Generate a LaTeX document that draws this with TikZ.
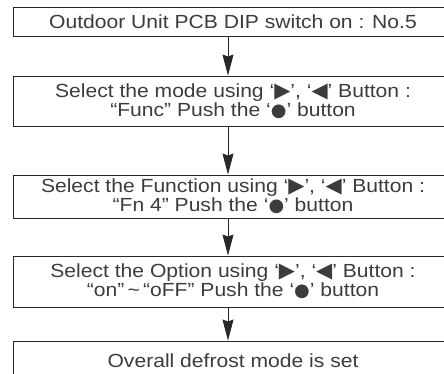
\documentclass[tikz,border=0pt]{standalone}
\usepackage{fontspec}
\setmainfont{Liberation Sans}[FakeStretch=1.11]
\newfontfamily\symfont{DejaVu Sans}
\usepackage{xcolor}
\usetikzlibrary{arrows.meta}
\definecolor{manualgray}{RGB}{40,40,40}
\definecolor{inkgray}{RGB}{60,60,60}
\newcommand{\rtri}{{\symfont\fontsize{21}{16}\selectfont\char"25B6}}
\newcommand{\ltri}{{\symfont\fontsize{21}{16}\selectfont\char"25C0}}
\newcommand{\okdot}{{\symfont\fontsize{18}{16}\selectfont\char"25CF}}
\tikzset{
  stepbox/.style={draw=manualgray,line width=0.9pt,minimum width=440pt,inner sep=0pt,
    align=center,font=\fontsize{19}{17}\selectfont,text=inkgray},
  flow/.style={manualgray,line width=0.8pt,-{Stealth[length=21pt,width=11pt,inset=2pt]}}
}

\begin{document}
\begin{tikzpicture}[x=1pt,y=-1pt]
  \useasboundingbox (0,0) rectangle (444,374);
  \node[stepbox,minimum height=29pt] (dip) at (233,21.5) {Outdoor Unit PCB DIP switch on : No.5};
  \node[stepbox,minimum height=50pt] (mode) at (233,101) {Select the mode using ‘\rtri’, ‘\ltri’ Button :\\“Func” Push the ‘\okdot’ button};
  \node[stepbox,minimum height=43pt] (func) at (233,196.5) {Select the Function using ‘\rtri’, ‘\ltri’ Button :\\“Fn 4” Push the ‘\okdot’ button};
  \node[stepbox,minimum height=51pt] (opt) at (233,281.5) {Select the Option using ‘\rtri’, ‘\ltri’ Button :\\“on”\,\char`~\,“oFF” Push the ‘\okdot’ button};
  \node[stepbox,minimum height=40pt] (done) at (233,361) {Overall defrost mode is set};
  \draw[flow] ([xshift=-5pt]dip.south) -- ([xshift=-5pt]mode.north);
  \draw[flow] ([xshift=-5pt]mode.south) -- ([xshift=-5pt]func.north);
  \draw[flow] ([xshift=-5pt]func.south) -- ([xshift=-5pt]opt.north);
  \draw[flow] ([xshift=-5pt]opt.south) -- ([xshift=-5pt]done.north);
\end{tikzpicture}
\end{document}
